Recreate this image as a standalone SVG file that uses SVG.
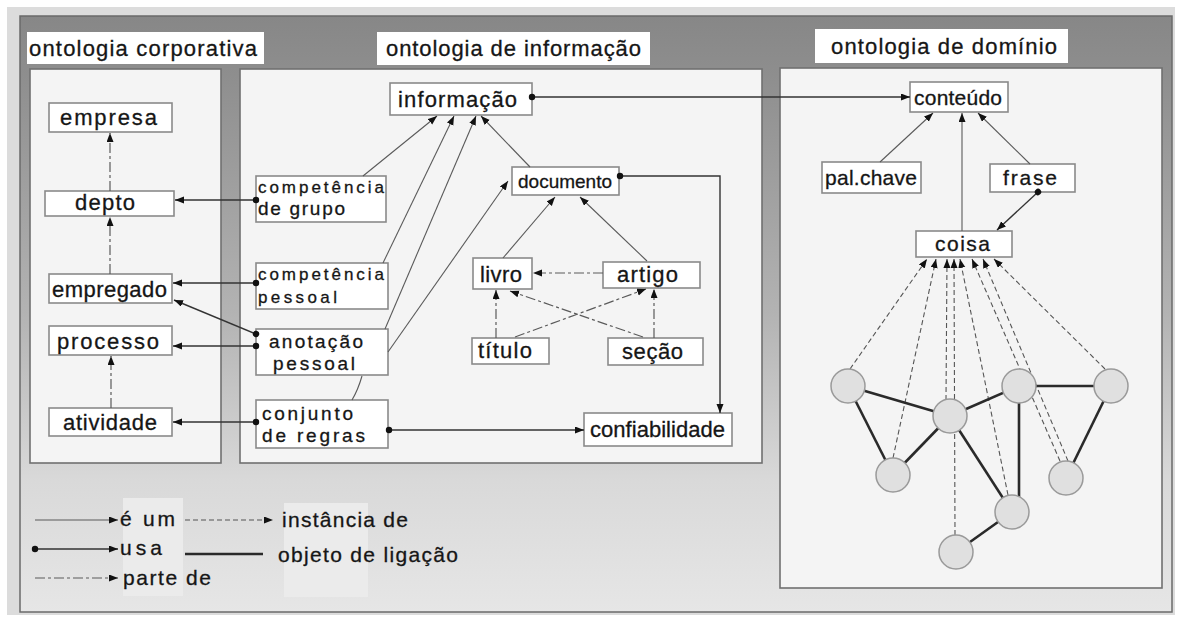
<svg xmlns="http://www.w3.org/2000/svg" width="1178" height="617" viewBox="0 0 1178 617">
<defs>
<linearGradient id="bg" x1="0" y1="0" x2="0" y2="1">
<stop offset="0" stop-color="#878787"/>
<stop offset="0.1" stop-color="#8e8e8e"/>
<stop offset="0.5" stop-color="#b3b3b3"/>
<stop offset="0.78" stop-color="#d9d9d9"/>
<stop offset="1" stop-color="#e6e6e6"/>
</linearGradient>
<marker id="arr" markerUnits="userSpaceOnUse" markerWidth="10" markerHeight="8" refX="9" refY="3.5" orient="auto">
<path d="M0,0 L9,3.5 L0,7 z" fill="#111"/>
</marker>
<marker id="dot" markerUnits="userSpaceOnUse" markerWidth="8" markerHeight="8" refX="4" refY="4" orient="auto">
<circle cx="4" cy="4" r="3.2" fill="#111"/>
</marker>
<style>
text{font-family:"Liberation Sans",Arial,sans-serif;fill:#161616;stroke:#161616;stroke-width:0.3;}
.t{font-size:22px;}
.n{font-size:22px;}
.n3{font-size:21px;}
.s{font-size:17px;}
.m{font-size:19px;}
.lg{font-size:21px;}
.box{fill:#ffffff;stroke:#8a8a8a;stroke-width:1.6;}
.ttl{fill:#ffffff;stroke:none;}
.panel{fill:#f4f4f4;stroke:#707070;stroke-width:1.6;}
.isa{stroke:#5a5a5a;stroke-width:1.1;fill:none;marker-end:url(#arr);}
.seg{stroke:#5a5a5a;stroke-width:1.1;fill:none;}
.usa{stroke:#333;stroke-width:1.4;fill:none;marker-start:url(#dot);marker-end:url(#arr);}
.part{stroke:#5a5a5a;stroke-width:1.2;fill:none;stroke-dasharray:10 3 3 3;marker-end:url(#arr);}
.inst{stroke:#555;stroke-width:1.1;fill:none;stroke-dasharray:5 3;marker-end:url(#arr);}
.link{stroke:#2a2a2a;stroke-width:2.6;fill:none;}
.circ{fill:#e0e0e0;stroke:#9a9a9a;stroke-width:1.5;}
</style>
</defs>

<rect x="0" y="0" width="1178" height="617" fill="#ffffff"/>
<rect x="7" y="7" width="1168" height="608" fill="#dcdcdc"/>
<rect x="20" y="16" width="1152" height="596" fill="url(#bg)" stroke="#6a6a6a" stroke-width="1.5"/>

<!-- panels -->
<g id="panel-corporativa">
<rect class="panel" x="30" y="69" width="191" height="394"/>
<rect class="ttl" x="27" y="32" width="237" height="32"/>
<text class="t" x="29" y="56" textLength="228" lengthAdjust="spacing">ontologia corporativa</text>
</g>
<g id="panel-informacao">
<rect class="panel" x="240" y="69" width="522" height="394"/>
<rect class="ttl" x="377" y="32" width="273" height="33"/>
<text class="t" x="386" y="56" textLength="255" lengthAdjust="spacing">ontologia de informação</text>
</g>
<g id="panel-dominio">
<rect class="panel" x="780" y="68" width="382" height="520"/>
<rect class="ttl" x="815" y="29" width="253" height="34"/>
<text class="t" x="831" y="54" textLength="226" lengthAdjust="spacing">ontologia de domínio</text>
</g>

<!-- legend backgrounds -->
<rect x="123" y="498" width="60" height="98" fill="#ebebeb"/>
<rect x="284" y="503" width="84" height="94" fill="#ebebeb"/>

<!-- panel 1 nodes -->
<g id="empresa"><rect class="box" x="49" y="103" width="123" height="29"/><text class="n" x="60" y="125" textLength="97" lengthAdjust="spacing">empresa</text></g>
<g id="depto"><rect class="box" x="45" y="191" width="129" height="25"/><text class="n" x="75" y="210" textLength="60" lengthAdjust="spacing">depto</text></g>
<g id="empregado"><rect class="box" x="49" y="274" width="123" height="29"/><text class="n" x="52" y="297" textLength="115" lengthAdjust="spacing">empregado</text></g>
<g id="processo"><rect class="box" x="49" y="326" width="123" height="29"/><text class="n" x="57" y="349" textLength="102" lengthAdjust="spacing">processo</text></g>
<g id="atividade"><rect class="box" x="49" y="408" width="123" height="28"/><text class="n" x="63" y="430" textLength="94" lengthAdjust="spacing">atividade</text></g>

<!-- panel 2 nodes -->
<g id="informacao"><rect class="box" x="390" y="83" width="142" height="32"/><text class="n" x="398" y="107" textLength="119" lengthAdjust="spacing">informação</text></g>
<g id="competencia-grupo"><rect class="box" x="256" y="176" width="130" height="46"/><text class="s" x="258" y="193" textLength="126" lengthAdjust="spacing">competência</text><text class="m" x="258" y="215" textLength="87" lengthAdjust="spacing">de grupo</text></g>
<g id="competencia-pessoal"><rect class="box" x="256" y="263" width="132" height="46"/><text class="s" x="258" y="280" textLength="126" lengthAdjust="spacing">competência</text><text class="s" x="258" y="303" textLength="79" lengthAdjust="spacing">pessoal</text></g>
<g id="anotacao-pessoal"><rect class="box" x="256" y="329" width="132" height="46"/><text class="m" x="269" y="348" textLength="94" lengthAdjust="spacing">anotação</text><text class="m" x="273" y="370" textLength="82" lengthAdjust="spacing">pessoal</text></g>
<g id="conjunto-regras"><rect class="box" x="256" y="400" width="132" height="48"/><text class="m" x="262" y="420" textLength="91" lengthAdjust="spacing">conjunto</text><text class="m" x="262" y="442" textLength="103" lengthAdjust="spacing">de regras</text></g>
<g id="documento"><rect class="box" x="512" y="167" width="107" height="28"/><text style="font-size:19px" x="518" y="188" textLength="94" lengthAdjust="spacing">documento</text></g>
<g id="livro"><rect class="box" x="473" y="258" width="59" height="31"/><text class="n" x="480" y="282" textLength="42" lengthAdjust="spacing">livro</text></g>
<g id="artigo"><rect class="box" x="603" y="262" width="97" height="26"/><text class="n" x="617" y="282" textLength="61" lengthAdjust="spacing">artigo</text></g>
<g id="titulo"><rect class="box" x="472" y="338" width="77" height="26"/><text class="n" x="478" y="358" textLength="54" lengthAdjust="spacing">título</text></g>
<g id="secao"><rect class="box" x="608" y="338" width="95" height="27"/><text class="n" x="622" y="359" textLength="61" lengthAdjust="spacing">seção</text></g>
<g id="confiabilidade"><rect class="box" x="584" y="413" width="148" height="33"/><text class="n" x="590" y="437" textLength="135" lengthAdjust="spacing">confiabilidade</text></g>

<!-- panel 3 nodes -->
<g id="conteudo"><rect class="box" x="910" y="82" width="98" height="30"/><text class="n3" x="914" y="105" textLength="88" lengthAdjust="spacing">conteúdo</text></g>
<g id="palchave"><rect class="box" x="822" y="162" width="99" height="31"/><text class="n3" x="825" y="185" textLength="92" lengthAdjust="spacing">pal.chave</text></g>
<g id="frase"><rect class="box" x="990" y="164" width="85" height="28"/><text class="n3" x="1003" y="185" textLength="54" lengthAdjust="spacing">frase</text></g>
<g id="coisa"><rect class="box" x="916" y="231" width="96" height="26"/><text class="n3" x="935" y="251" textLength="55" lengthAdjust="spacing">coisa</text></g>

<g id="connectors">
<!-- panel 1 part-of -->
<line class="part" x1="110" y1="191" x2="110" y2="133"/>
<line class="part" x1="110" y1="274" x2="110" y2="217"/>
<line class="part" x1="111" y1="408" x2="111" y2="356"/>
<!-- usa to panel 1 -->
<line class="usa" x1="256" y1="200" x2="175" y2="200"/>
<line class="usa" x1="256" y1="283" x2="173" y2="283"/>
<line class="usa" x1="256" y1="334" x2="174" y2="300"/>
<line class="usa" x1="256" y1="346" x2="173" y2="346"/>
<line class="usa" x1="256" y1="422" x2="173" y2="422"/>
<!-- is-a to informação -->
<line class="isa" x1="363" y1="176" x2="437" y2="116"/>
<line class="isa" x1="383" y1="263" x2="454" y2="116"/>
<path class="seg" d="M352,400 Q358,390 362,376"/>
<line class="isa" x1="385" y1="329" x2="476" y2="116"/>
<line class="isa" x1="388" y1="352" x2="508" y2="181"/>
<line class="isa" x1="530" y1="167" x2="481" y2="116"/>
<!-- documento subtypes -->
<line class="isa" x1="503" y1="258" x2="555" y2="197"/>
<line class="isa" x1="647" y1="261" x2="580" y2="197"/>
<!-- part-of in documents -->
<line class="part" x1="603" y1="273" x2="533" y2="273"/>
<line class="part" x1="496" y1="338" x2="496" y2="290"/>
<line class="part" x1="654" y1="338" x2="654" y2="289"/>
<line class="part" x1="515" y1="337" x2="646" y2="289"/>
<line class="part" x1="643" y1="337" x2="510" y2="291"/>
<!-- usa in panel 2 -->
<line class="usa" x1="389" y1="430" x2="584" y2="430"/>
<polyline class="usa" points="620,176 720,176 720,413"/>
<line class="usa" x1="532" y1="97" x2="910" y2="97"/>
<!-- panel 3 -->
<line class="isa" x1="880" y1="162" x2="933" y2="113"/>
<line class="isa" x1="962" y1="231" x2="962" y2="113"/>
<line class="isa" x1="1030" y1="164" x2="978" y2="113"/>
<line class="usa" x1="1038" y1="192" x2="997" y2="230"/>
<!-- instances to coisa -->
<line class="inst" x1="850" y1="369" x2="927" y2="259"/>
<line class="inst" x1="893" y1="458" x2="936" y2="259"/>
<line class="inst" x1="946" y1="400" x2="947" y2="259"/>
<line class="inst" x1="955" y1="535" x2="954" y2="259"/>
<line class="inst" x1="1008" y1="495" x2="960" y2="259"/>
<line class="inst" x1="1060" y1="461" x2="972" y2="259"/>
<line class="inst" x1="1068" y1="461" x2="983" y2="259"/>
<line class="inst" x1="1105" y1="369" x2="994" y2="259"/>
<!-- link objects -->
<line class="link" x1="848" y1="386" x2="950" y2="416"/>
<line class="link" x1="848" y1="386" x2="893" y2="475"/>
<line class="link" x1="893" y1="475" x2="950" y2="416"/>
<line class="link" x1="950" y1="416" x2="1019" y2="386"/>
<line class="link" x1="1019" y1="386" x2="1111" y2="386"/>
<line class="link" x1="1111" y1="386" x2="1066" y2="478"/>
<line class="link" x1="1019" y1="386" x2="1019" y2="512"/>
<line class="link" x1="950" y1="416" x2="1012" y2="512"/>
<line class="link" x1="956" y1="552" x2="1012" y2="512"/>
</g>

<g id="c1"><circle class="circ" cx="848" cy="386" r="17"/></g>
<g id="c2"><circle class="circ" cx="950" cy="416" r="17"/></g>
<g id="c3"><circle class="circ" cx="1019" cy="386" r="17"/></g>
<g id="c4"><circle class="circ" cx="1111" cy="386" r="17"/></g>
<g id="c5"><circle class="circ" cx="893" cy="475" r="17"/></g>
<g id="c6"><circle class="circ" cx="1066" cy="478" r="17"/></g>
<g id="c7"><circle class="circ" cx="1012" cy="512" r="17"/></g>
<g id="c8"><circle class="circ" cx="956" cy="552" r="17"/></g>

<!-- legend -->
<g id="legend">
<line class="isa" x1="35" y1="520" x2="118" y2="520"/>
<text class="lg" x="120" y="526" textLength="55" lengthAdjust="spacing">é um</text>
<line class="usa" x1="35" y1="549" x2="118" y2="549"/>
<text class="lg" x="120" y="555" textLength="42" lengthAdjust="spacing">usa</text>
<line class="part" x1="35" y1="578" x2="118" y2="578"/>
<text class="lg" x="123" y="585" textLength="88" lengthAdjust="spacing">parte de</text>
<line class="inst" x1="185" y1="520" x2="273" y2="520"/>
<text class="lg" x="282" y="527" textLength="126" lengthAdjust="spacing">instância de</text>
<line class="link" x1="185" y1="554" x2="263" y2="554"/>
<text class="lg" x="278" y="562" textLength="180" lengthAdjust="spacing">objeto de ligação</text>
</g>
</svg>
